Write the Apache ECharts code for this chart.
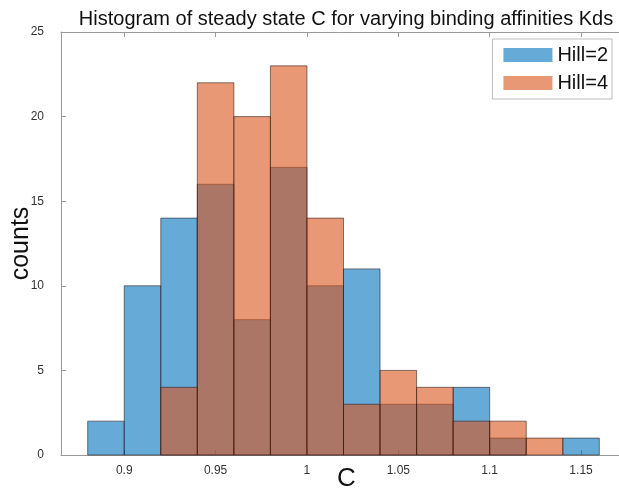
<!DOCTYPE html>
<html>
<head>
<meta charset="utf-8">
<script src="https://cdn.jsdelivr.net/npm/echarts@6/dist/echarts.min.js"></script>
<style>
  html, body { margin: 0; padding: 0; background: #fff; }
  #chart { width: 619px; height: 500px; }
</style>
</head>
<body>
<div id="chart"></div>
<script>
// bins are 0.02 wide, left edges below
var binStarts = [0.88, 0.90, 0.92, 0.94, 0.96, 0.98, 1.00, 1.02, 1.04, 1.06, 1.08, 1.10, 1.12, 1.14];
var binWidth = 0.02;
var hill2Counts = [2, 10, 14, 16, 8, 17, 10, 11, 3, 3, 4, 1, 0, 1];
var hill4Counts = [0, 0, 4, 22, 20, 23, 14, 3, 5, 4, 2, 2, 1, 0];
var xTicks = [0.9, 0.95, 1, 1.05, 1.1, 1.15];

var font = 'Liberation Sans, Arial, Helvetica, sans-serif';

function toBins(counts){
    var out = [];
    for (var i = 0; i < counts.length; i++) {
        if (counts[i] > 0) out.push([binStarts[i], binStarts[i] + binWidth, counts[i]]);
    }
    return out;
}

function histItem(params, api){
    var p0 = api.coord([api.value(0), 0]);
    var p1 = api.coord([api.value(1), api.value(2)]);
    return {
        type: 'rect',
        shape: { x: p0[0], y: p1[1], width: p1[0] - p0[0], height: p0[1] - p1[1] },
        style: {
            fill: api.visual('color'),
            stroke: 'rgba(40,20,20,0.55)',
            lineWidth: 1
        }
    };
}

var chart = echarts.init(document.getElementById('chart'));

var option = {
    backgroundColor: '#fff',
    animation: false,
    title: {
        text: 'Histogram of steady state C for varying binding affinities Kds',
        left: 341,
        textAlign: 'center',
        top: 4,
        textStyle: { fontFamily: font, fontSize: 20, fontWeight: 'normal', color: '#111' }
    },
    legend: {
        right: 7,
        top: 39,
        orient: 'vertical',
        itemWidth: 49,
        itemHeight: 14,
        itemGap: 8,
        padding: [6, 4, 6, 11],
        borderColor: '#bbb',
        borderWidth: 1,
        backgroundColor: '#fff',
        textStyle: { fontFamily: font, fontSize: 20, color: '#111' },
        data: [
            { name: 'Hill=2', icon: 'rect' },
            { name: 'Hill=4', icon: 'rect' }
        ]
    },
    grid: { left: 61, top: 32, width: 565, height: 423, outerBoundsMode: 'none', containLabel: false },
    xAxis: [{
        type: 'value',
        min: 0.8654,
        max: 1.1746,
        name: 'C',
        nameLocation: 'middle',
        nameGap: 11,
        nameMoveOverlap: false,
        nameTextStyle: { fontFamily: font, fontSize: 26, color: '#111', padding: [0, 0, 0, 6] },
        axisLine: { show: true, lineStyle: { color: '#999', width: 1 } },
        axisTick: { show: true, inside: true, length: 5, lineStyle: { color: '#999' }, customValues: xTicks },
        axisLabel: { fontFamily: font, fontSize: 12, color: '#333', margin: 10, customValues: xTicks,
            formatter: function(v){ return String(v); } },
        splitLine: { show: false }
    }, {
        type: 'value',
        position: 'top',
        min: 0.8654,
        max: 1.1746,
        axisLine: { show: true, lineStyle: { color: '#999', width: 1 } },
        axisTick: { show: true, inside: true, length: 5, lineStyle: { color: '#999' }, customValues: xTicks },
        axisLabel: { show: false },
        splitLine: { show: false }
    }],
    yAxis: {
        type: 'value',
        min: 0,
        max: 25,
        interval: 5,
        name: 'counts',
        nameLocation: 'middle',
        nameGap: 27,
        nameMoveOverlap: false,
        nameTextStyle: { fontFamily: font, fontSize: 25, color: '#111' },
        axisLine: { show: true, lineStyle: { color: '#999', width: 1 } },
        axisTick: { show: true, inside: true, length: 5, lineStyle: { color: '#999' } },
        axisLabel: { fontFamily: font, fontSize: 12, color: '#333', margin: 17 },
        splitLine: { show: false }
    },
    series: [{
        name: 'Hill=2',
        type: 'custom',
        renderItem: histItem,
        encode: { x: [0, 1], y: 2 },
        itemStyle: { color: 'rgba(0,114,189,0.6)' },
        data: toBins(hill2Counts)
    }, {
        name: 'Hill=4',
        type: 'custom',
        renderItem: histItem,
        encode: { x: [0, 1], y: 2 },
        itemStyle: { color: 'rgba(217,83,25,0.6)' },
        data: toBins(hill4Counts)
    }]
};

chart.setOption(option);
</script>
</body>
</html>
